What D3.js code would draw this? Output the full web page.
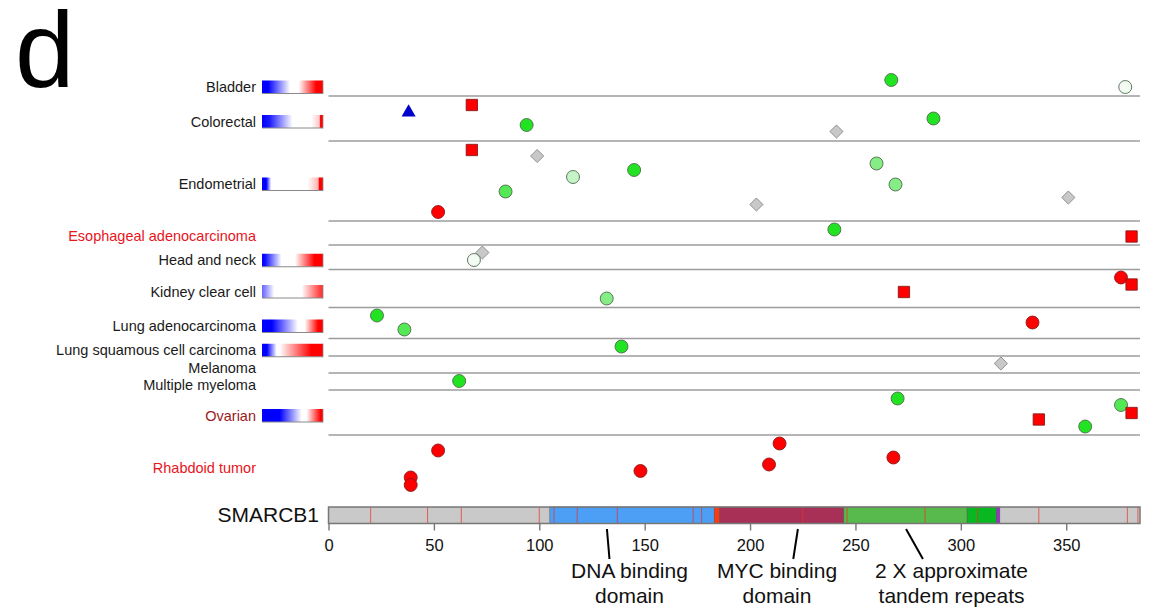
<!DOCTYPE html>
<html>
<head>
<meta charset="utf-8">
<script src="https://cdn.jsdelivr.net/npm/d3@7"></script>
<style>
  body { margin: 0; background: #fff; }
  svg { display: block; font-family: "Liberation Sans", Arial, Helvetica, sans-serif; }
</style>
</head>
<body>
<svg id="chart" width="1152" height="614"></svg>
<script>
// ---- data -------------------------------------------------------------
const gene = "SMARCB1";
const proteinLength = 385;

const tissues = [
  "Bladder", "Colorectal", "Endometrial", "Esophageal adenocarcinoma",
  "Head and neck", "Kidney clear cell", "Lung adenocarcinoma",
  "Lung squamous cell carcinoma", "Melanoma", "Multiple myeloma",
  "Ovarian", "Rhabdoid tumor"
];
// significance of the gene in each tumour type (drives label colour)
const tissueSignificance = [
  "none", "none", "none", "significant", "none", "none", "none",
  "none", "none", "none", "near", "significant"
];
// vertical extent of each tumour-type track (top edge of row i, then bottom edges)
const rowEdges = [84.6, 79.8, 70.8, 54.8, 50, 45.1, 37.5, 31.3, 27.8, 24.4, 21, 12, 0];

// copy-number profile per tumour type: [fraction along bar, -1 loss … +1 gain]
const cnaProfiles = [
  [[0, -1], [0.10, -1], [0.46, 0], [0.60, 0], [0.89, 1], [1, 1]],
  [[0, -1], [0.12, -0.9], [0.50, 0], [0.81, 0], [0.94, 0.22], [0.96, 1], [1, 1]],
  [[0, -1], [0.07, -1], [0.15, 0], [0.75, 0], [0.92, 0.3], [0.94, 1], [1, 1]],
  null,
  [[0, -1], [0.05, -0.95], [0.32, 0], [0.54, 0], [0.86, 1], [1, 1]],
  [[0, -0.6], [0.04, -0.5], [0.20, 0], [0.65, 0], [0.95, 0.75], [1, 0.8]],
  [[0, -1], [0.16, -1], [0.59, 0], [0.70, 0], [0.92, 1], [1, 1]],
  [[0, -1], [0.08, -1], [0.24, 0], [0.29, 0], [0.81, 1], [1, 1]],
  null,
  null,
  [[0, -1], [0.29, -1], [0.65, 0], [0.73, 0], [0.96, 1], [1, 1]],
  null
];

// mutations: residue, lane (vertical jitter within the track), class, conservation
const mutations = [
  { tissue: "Bladder", pos: 267, lane: 83.0, cls: "missense", cons: 5 },
  { tissue: "Bladder", pos: 378, lane: 81.6, cls: "missense", cons: 1 },

  { tissue: "Colorectal", pos: 38, lane: 76.5, cls: "inframe" },
  { tissue: "Colorectal", pos: 68, lane: 78.0, cls: "frameshift" },
  { tissue: "Colorectal", pos: 94, lane: 74.0, cls: "missense", cons: 5 },
  { tissue: "Colorectal", pos: 241, lane: 72.7, cls: "silent" },
  { tissue: "Colorectal", pos: 287, lane: 75.3, cls: "missense", cons: 5 },

  { tissue: "Endometrial", pos: 68, lane: 69.0, cls: "frameshift" },
  { tissue: "Endometrial", pos: 99, lane: 67.8, cls: "silent" },
  { tissue: "Endometrial", pos: 116, lane: 63.6, cls: "missense", cons: 2 },
  { tissue: "Endometrial", pos: 84, lane: 60.7, cls: "missense", cons: 4 },
  { tissue: "Endometrial", pos: 145, lane: 65.0, cls: "missense", cons: 5 },
  { tissue: "Endometrial", pos: 52, lane: 56.6, cls: "nonsense" },
  { tissue: "Endometrial", pos: 260, lane: 66.3, cls: "missense", cons: 3 },
  { tissue: "Endometrial", pos: 269, lane: 62.1, cls: "missense", cons: 3 },
  { tissue: "Endometrial", pos: 203, lane: 58.1, cls: "silent" },
  { tissue: "Endometrial", pos: 351, lane: 59.5, cls: "silent" },

  { tissue: "Esophageal adenocarcinoma", pos: 240, lane: 53.1, cls: "missense", cons: 5 },
  { tissue: "Esophageal adenocarcinoma", pos: 381, lane: 51.7, cls: "frameshift" },

  { tissue: "Head and neck", pos: 73, lane: 48.5, cls: "silent" },
  { tissue: "Head and neck", pos: 69, lane: 47.0, cls: "missense", cons: 1 },

  { tissue: "Kidney clear cell", pos: 132, lane: 39.3, cls: "missense", cons: 3 },
  { tissue: "Kidney clear cell", pos: 273, lane: 40.6, cls: "frameshift" },
  { tissue: "Kidney clear cell", pos: 376, lane: 43.5, cls: "nonsense" },
  { tissue: "Kidney clear cell", pos: 381, lane: 42.1, cls: "frameshift" },

  { tissue: "Lung adenocarcinoma", pos: 23, lane: 35.9, cls: "missense", cons: 5 },
  { tissue: "Lung adenocarcinoma", pos: 36, lane: 33.1, cls: "missense", cons: 4 },
  { tissue: "Lung adenocarcinoma", pos: 334, lane: 34.5, cls: "nonsense" },

  { tissue: "Lung squamous cell carcinoma", pos: 139, lane: 29.7, cls: "missense", cons: 5 },

  { tissue: "Melanoma", pos: 319, lane: 26.3, cls: "silent" },

  { tissue: "Multiple myeloma", pos: 62, lane: 22.8, cls: "missense", cons: 5 },

  { tissue: "Ovarian", pos: 270, lane: 19.3, cls: "missense", cons: 5 },
  { tissue: "Ovarian", pos: 337, lane: 15.1, cls: "frameshift" },
  { tissue: "Ovarian", pos: 359, lane: 13.7, cls: "missense", cons: 5 },
  { tissue: "Ovarian", pos: 376, lane: 18.0, cls: "missense", cons: 4 },
  { tissue: "Ovarian", pos: 381, lane: 16.4, cls: "frameshift" },

  { tissue: "Rhabdoid tumor", pos: 52, lane: 8.9, cls: "nonsense" },
  { tissue: "Rhabdoid tumor", pos: 39, lane: 3.5, cls: "nonsense" },
  { tissue: "Rhabdoid tumor", pos: 39, lane: 2.0, cls: "nonsense" },
  { tissue: "Rhabdoid tumor", pos: 148, lane: 4.8, cls: "nonsense" },
  { tissue: "Rhabdoid tumor", pos: 214, lane: 10.3, cls: "nonsense" },
  { tissue: "Rhabdoid tumor", pos: 209, lane: 6.1, cls: "nonsense" },
  { tissue: "Rhabdoid tumor", pos: 268, lane: 7.5, cls: "nonsense" }
];

// protein features along SMARCB1
const domains = [
  { start: 105, end: 183, color: "#4c9ff5" },
  { start: 183, end: 185.5, color: "#ff3a10" },
  { start: 185.5, end: 244.5, color: "#a83056" },
  { start: 244.5, end: 303, color: "#58b94c" },
  { start: 303, end: 317, color: "#08b821" },
  { start: 317, end: 318.5, color: "#9a30d0" }
];
// residues marked on the protein bar
const barMarks = [20, 47, 63, 100, 107, 118, 137, 173, 177, 225, 246, 283, 308, 337, 379, 384];

const axisTicks = [0, 50, 100, 150, 200, 250, 300, 350];

const annotations = [
  { lines: ["DNA binding", "domain"], center: 142.8, from: 132.1, to: 133.3 },
  { lines: ["MYC binding", "domain"], center: 212.8, from: 222.7, to: 220.5 },
  { lines: ["2 X approximate", "tandem repeats"], center: 295.6, from: 274, to: 282 }
];

// ---- drawing ----------------------------------------------------------
const svg = d3.select("#chart");

const x = d3.scaleLinear().domain([0, proteinLength]).range([328.5, 1140]);
const y = d3.scaleLinear().domain([0, 85]).range([495, 70]);

const labelColor = { none: "#1a1a1a", significant: "#e8141c", near: "#9b1b1b" };
const cnaColor = d3.scaleLinear().domain([-1, 0, 1]).range(["#0000ff", "#ffffff", "#ff0000"]);
const consColor = { 5: "#22e322", 4: "#55e855", 3: "#86ec86", 2: "#c6f4c6", 1: "#f3fbf3" };

// panel letter
svg.append("text")
  .attr("x", 15).attr("y", 87)
  .attr("font-size", 107).attr("fill", "#000")
  .text("d");

// row separators
svg.append("g").selectAll("line")
  .data(rowEdges.slice(1, rowEdges.length - 1))
  .join("line")
  .attr("x1", x(0)).attr("x2", x(proteinLength))
  .attr("y1", d => y(d)).attr("y2", d => y(d))
  .attr("stroke", "#9c9c9c").attr("stroke-width", 1.6);

const rowCenter = i => y((rowEdges[i] + rowEdges[i + 1]) / 2) + 3;

// tumour-type labels
svg.append("g").selectAll("text")
  .data(tissues)
  .join("text")
  .attr("x", 256)
  .attr("y", (d, i) => rowCenter(i) + 5.2)
  .attr("text-anchor", "end")
  .attr("font-size", 14.5)
  .attr("fill", (d, i) => labelColor[tissueSignificance[i]])
  .text(d => d);

// copy-number gradient bars
const defs = svg.append("defs");
const barG = svg.append("g");
cnaProfiles.forEach((prof, i) => {
  if (!prof) return;
  const id = "cna" + i;
  const grad = defs.append("linearGradient").attr("id", id)
    .attr("x1", "0%").attr("x2", "100%").attr("y1", "0%").attr("y2", "0%");
  prof.forEach(([o, v]) => {
    grad.append("stop").attr("offset", (o * 100) + "%").attr("stop-color", cnaColor(v));
  });
  const cy = rowCenter(i);
  barG.append("rect")
    .attr("x", 262).attr("y", cy - 6.5)
    .attr("width", 61).attr("height", 13)
    .attr("fill", `url(#${id})`);
  barG.append("line")
    .attr("x1", 262).attr("x2", 323)
    .attr("y1", cy + 6.5).attr("y2", cy + 6.5)
    .attr("stroke", "#8a8a8a").attr("stroke-width", 1);
  barG.append("line")
    .attr("x1", 323).attr("x2", 323)
    .attr("y1", cy - 6.5).attr("y2", cy + 7)
    .attr("stroke", "#8a8a8a").attr("stroke-width", 0.8);
});

// mutation markers
const symbolFor = {
  missense: d3.symbolCircle,
  nonsense: d3.symbolCircle,
  frameshift: d3.symbolSquare,
  silent: d3.symbolSquare,   // drawn rotated 45° as a diamond
  inframe: d3.symbolTriangle
};
const sizeFor = { missense: 132, nonsense: 132, frameshift: 128, silent: 86, inframe: 86 };
const fillFor = d => {
  if (d.cls === "missense") return consColor[d.cons];
  if (d.cls === "nonsense" || d.cls === "frameshift") return "#ff0000";
  if (d.cls === "silent") return "#c8c8c8";
  return "#0000cc";
};
const strokeFor = d => {
  if (d.cls === "missense") return "#4d6b4d";
  if (d.cls === "nonsense" || d.cls === "frameshift") return "#8a1a1a";
  if (d.cls === "silent") return "#8c8c8c";
  return "none";
};

svg.append("g").selectAll("path")
  .data(mutations)
  .join("path")
  .attr("transform", d => `translate(${x(d.pos)},${y(d.lane)})` + (d.cls === "silent" ? " rotate(45)" : ""))
  .attr("d", d => d3.symbol(symbolFor[d.cls], sizeFor[d.cls])())
  .attr("fill", fillFor)
  .attr("stroke", strokeFor)
  .attr("stroke-width", 0.9);

// protein bar
const barTop = 507, barH = 16.5;
const prot = svg.append("g");
prot.append("rect")
  .attr("x", x(0)).attr("y", barTop)
  .attr("width", x(proteinLength) - x(0)).attr("height", barH)
  .attr("fill", "#c9c9c9");
prot.selectAll("rect.dom")
  .data(domains)
  .join("rect")
  .attr("class", "dom")
  .attr("x", d => x(d.start)).attr("y", barTop)
  .attr("width", d => x(d.end) - x(d.start)).attr("height", barH)
  .attr("fill", d => d.color)
  .attr("stroke", "#555").attr("stroke-width", 0.5);
prot.selectAll("line.mark")
  .data(barMarks)
  .join("line")
  .attr("class", "mark")
  .attr("x1", d => x(d)).attr("x2", d => x(d))
  .attr("y1", barTop).attr("y2", barTop + barH)
  .attr("stroke", "#e8302a").attr("stroke-opacity", 0.7).attr("stroke-width", 1);
prot.append("rect")
  .attr("x", x(0)).attr("y", barTop)
  .attr("width", x(proteinLength) - x(0)).attr("height", barH)
  .attr("fill", "none").attr("stroke", "#777").attr("stroke-width", 1.5);

svg.append("text")
  .attr("x", 319).attr("y", 521.5)
  .attr("text-anchor", "end")
  .attr("font-size", 21).attr("fill", "#111")
  .text(gene);

// residue axis
const axisG = svg.append("g")
  .attr("transform", `translate(0,${barTop + barH})`)
  .call(d3.axisBottom(x).tickValues(axisTicks).tickSize(7).tickSizeOuter(0));
axisG.select(".domain").remove();
axisG.selectAll(".tick line").attr("stroke", "#777").attr("stroke-width", 1.4);
axisG.selectAll(".tick text")
  .attr("dy", null).attr("y", 27)
  .attr("font-size", 16.5)
  .attr("font-family", "Liberation Sans, Arial, sans-serif")
  .attr("fill", "#111");

// domain annotations
const ann = svg.append("g");
annotations.forEach(a => {
  ann.append("line")
    .attr("x1", x(a.from)).attr("y1", 529)
    .attr("x2", x(a.to)).attr("y2", 559)
    .attr("stroke", "#000").attr("stroke-width", 2);
  a.lines.forEach((t, k) => {
    ann.append("text")
      .attr("x", x(a.center)).attr("y", 577.5 + k * 25)
      .attr("text-anchor", "middle")
      .attr("font-size", 21).attr("fill", "#111")
      .text(t);
  });
});
</script>
</body>
</html>
